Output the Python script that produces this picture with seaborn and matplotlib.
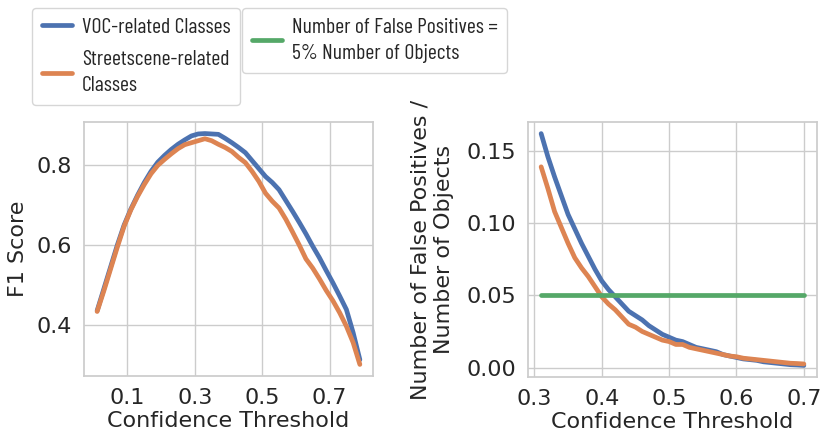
import numpy as np
import pandas as pd
import seaborn as sns
import matplotlib
matplotlib.use("Agg")
import matplotlib.pyplot as plt

# ---- data: left panel (F1 score vs confidence threshold) ----
thr_left = [0.01, 0.03, 0.05, 0.07, 0.09, 0.11, 0.13, 0.15, 0.17, 0.19,
            0.21, 0.23, 0.25, 0.27, 0.29, 0.31, 0.33, 0.35, 0.37, 0.39,
            0.41, 0.43, 0.45, 0.47, 0.49, 0.51, 0.53, 0.55, 0.57, 0.59,
            0.61, 0.63, 0.65, 0.67, 0.69, 0.71, 0.73, 0.75, 0.77, 0.79]
f1_voc = [0.435, 0.49, 0.545, 0.60, 0.65, 0.69, 0.725, 0.757, 0.785, 0.808,
          0.825, 0.840, 0.853, 0.864, 0.874, 0.879, 0.880, 0.879, 0.878, 0.868,
          0.857, 0.845, 0.832, 0.812, 0.792, 0.772, 0.757, 0.739, 0.712, 0.685,
          0.657, 0.628, 0.597, 0.568, 0.536, 0.505, 0.472, 0.438, 0.38, 0.312]
f1_street = [0.433, 0.485, 0.54, 0.595, 0.647, 0.688, 0.722, 0.752, 0.779, 0.800,
             0.815, 0.829, 0.842, 0.852, 0.857, 0.862, 0.867, 0.862, 0.853, 0.845,
             0.835, 0.82, 0.807, 0.785, 0.760, 0.730, 0.710, 0.693, 0.665, 0.633,
             0.600, 0.565, 0.542, 0.515, 0.486, 0.460, 0.430, 0.396, 0.355, 0.300]

# ---- data: right panel (FP / objects vs confidence threshold) ----
thr_right = [0.31, 0.32, 0.33, 0.34, 0.35, 0.36, 0.37, 0.38, 0.39, 0.40,
             0.41, 0.42, 0.43, 0.44, 0.45, 0.46, 0.47, 0.48, 0.49, 0.50,
             0.51, 0.52, 0.53, 0.54, 0.55, 0.56, 0.57, 0.58, 0.59, 0.60,
             0.61, 0.62, 0.63, 0.64, 0.65, 0.66, 0.67, 0.68, 0.69, 0.70]
fp_voc = [0.162, 0.146, 0.132, 0.119, 0.106, 0.096, 0.086, 0.077, 0.068, 0.060,
          0.054, 0.049, 0.044, 0.039, 0.036, 0.033, 0.029, 0.026, 0.023, 0.021,
          0.019, 0.018, 0.016, 0.014, 0.013, 0.012, 0.011, 0.009, 0.008, 0.007,
          0.006, 0.0055, 0.005, 0.004, 0.0035, 0.003, 0.0025, 0.002, 0.0018, 0.0015]
fp_street = [0.139, 0.124, 0.108, 0.097, 0.086, 0.076, 0.069, 0.063, 0.056, 0.049,
             0.044, 0.040, 0.035, 0.030, 0.028, 0.025, 0.023, 0.021, 0.019, 0.018,
             0.016, 0.016, 0.014, 0.013, 0.012, 0.011, 0.010, 0.009, 0.008, 0.0075,
             0.0065, 0.006, 0.0055, 0.005, 0.0045, 0.004, 0.0035, 0.003, 0.0028, 0.0025]
fp_target = 0.05

label_voc = "VOC-related Classes"
label_street = "Streetscene-related\nClasses"
label_target = "Number of False Positives =\n5% Number of Objects"

left_xticks = [0.1, 0.3, 0.5, 0.7]
left_yticks = [0.4, 0.6, 0.8]
right_xticks = [0.3, 0.4, 0.5, 0.6, 0.7]
right_yticks = [0.00, 0.05, 0.10, 0.15]

sns.set_theme(style="whitegrid")
plt.rcParams['font.family'] = ['DejaVu Sans']
FS = 16
LEG_FS = 15.6
LEG_FAMILY = ['Barlow Condensed', 'DejaVu Sans']
pal = sns.color_palette("deep")

fig = plt.figure(figsize=(8.31, 4.46), dpi=100)
ax1 = fig.add_axes([84/831, 1-376/446, (373-84)/831, (376-122)/446])
ax2 = fig.add_axes([528/831, 1-377/446, (817-528)/831, (377-122)/446])

lw = 3.4
df_l = pd.DataFrame({"thr": thr_left, "voc": f1_voc, "street": f1_street})
sns.lineplot(data=df_l, x="thr", y="voc", ax=ax1, color=pal[0], lw=lw, label=label_voc)
sns.lineplot(data=df_l, x="thr", y="street", ax=ax1, color=pal[1], lw=lw, label=label_street)

df_r = pd.DataFrame({"thr": thr_right, "voc": fp_voc, "street": fp_street,
                     "target": [fp_target] * len(thr_right)})
sns.lineplot(data=df_r, x="thr", y="voc", ax=ax2, color=pal[0], lw=lw, legend=False)
sns.lineplot(data=df_r, x="thr", y="street", ax=ax2, color=pal[1], lw=lw, legend=False)
sns.lineplot(data=df_r, x="thr", y="target", ax=ax2, color=pal[2], lw=lw, label=label_target)

ax1.set_xticks(left_xticks)
ax1.set_yticks(left_yticks)
ax1.set_xticklabels([f"{v:.1f}" for v in left_xticks])
ax1.set_yticklabels([f"{v:.1f}" for v in left_yticks])
ax1.set_xlabel("Confidence Threshold", fontsize=FS, labelpad=2)
ax1.set_ylabel("F1 Score", fontsize=FS, labelpad=6)

ax2.set_xticks(right_xticks)
ax2.set_yticks(right_yticks)
ax2.set_xticklabels([f"{v:.1f}" for v in right_xticks])
ax2.set_yticklabels([f"{v:.2f}" for v in right_yticks])
ax2.set_xlabel("Confidence Threshold", fontsize=FS, labelpad=2)
ax2.set_ylabel("Number of False Positives /\nNumber of Objects", fontsize=FS, labelpad=9)

for ax in (ax1, ax2):
    ax.tick_params(labelsize=FS, length=0, pad=8.5)

leg_kw = dict(loc="upper left", bbox_transform=fig.transFigure, frameon=True,
              handlelength=1.4, handletextpad=0.45, borderpad=0.45, borderaxespad=0,
              labelspacing=0.6, prop={'family': LEG_FAMILY, 'size': LEG_FS})
leg1 = ax1.legend(bbox_to_anchor=(32/831, 1-8/446), **leg_kw)
leg2 = ax2.legend(bbox_to_anchor=(242/831, 1-8/446), **leg_kw)
for leg in (leg1, leg2):
    for h in leg.get_lines():
        h.set_linewidth(lw)
        h.set_solid_capstyle('round')
    for t in leg.get_texts():
        t.set_linespacing(1.5)

fig.savefig("out.png", dpi=100)
